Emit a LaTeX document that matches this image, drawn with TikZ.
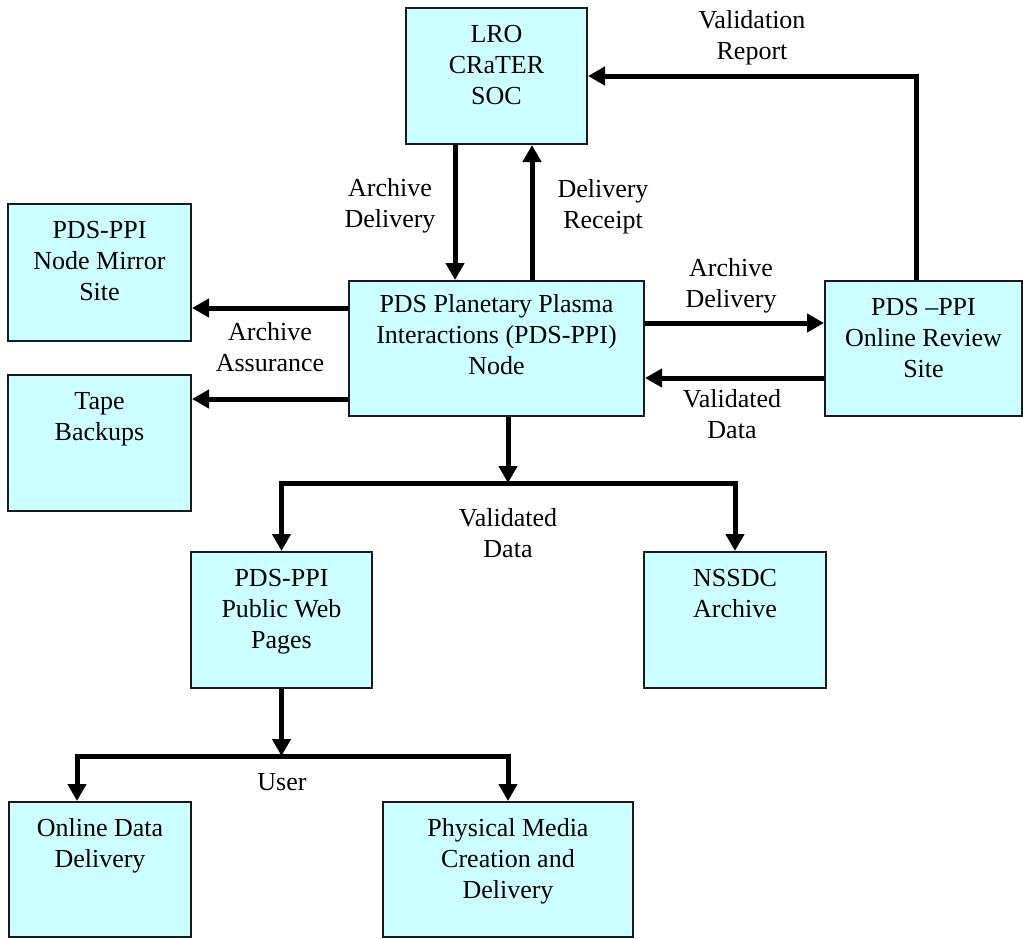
\documentclass[tikz,border=0pt]{standalone}
\usepackage{fontspec}
\setmainfont{Liberation Serif}
\usetikzlibrary{arrows.meta}
\definecolor{boxfill}{HTML}{CCFFFF}
\definecolor{boxline}{HTML}{1A1A1A}
\begin{document}
\begin{tikzpicture}[x=1pt,y=-1pt,
  every node/.style={font=\fontsize{26}{31}\selectfont},
  box/.style={draw=boxline,line width=2pt,fill=boxfill,rectangle,inner sep=0pt,
    minimum width=#1},
  box/.default=182pt,
  boxtxt/.style={label={[anchor=north,yshift=-15pt,align=center,inner sep=0pt]north:\rule{0pt}{20pt}#1}},
  boxtxtB/.style={label={[anchor=north,yshift=-12pt,align=center,inner sep=0pt]north:\rule{0pt}{20pt}#1}},
  arr/.style={line width=5pt,-{Triangle[length=17pt,width=18pt]}},
  lbl/.style={align=center,inner sep=0pt}]
\useasboundingbox (0,0) rectangle (1023,938);
% boxes
\node[box=181pt,minimum height=136pt,boxtxt={LRO\\CRaTER\\SOC}] (lro) at (496.5,76) {};
\node[box=295pt,minimum height=135pt,boxtxtB={PDS Planetary Plasma\\Interactions (PDS-PPI)\\Node}] (main) at (496.5,348.5) {};
\node[box=197pt,minimum height=135pt,boxtxt={PDS --PPI\\Online Review\\Site}] (rev) at (923.5,348.5) {};
\node[box=183pt,minimum height=137pt,boxtxt={PDS-PPI\\Node Mirror\\Site}] (mirror) at (99.5,272.5) {};
\node[box=183pt,minimum height=136pt,boxtxt={Tape\\Backups}] (tape) at (99.5,443) {};
\node[box=181pt,minimum height=136pt,boxtxt={PDS-PPI\\Public Web\\Pages}] (pub) at (281.5,620) {};
\node[box=182pt,minimum height=136pt,boxtxt={NSSDC\\Archive}] (nssdc) at (735,620) {};
\node[box=182pt,minimum height=135pt,boxtxt={Online Data\\Delivery}] (odd) at (100,869.5) {};
\node[box=250pt,minimum height=135pt,boxtxt={Physical Media\\Creation and\\Delivery}] (phys) at (508,869.5) {};
% helper coordinates
\coordinate (xA) at (455,0);
\coordinate (xB) at (532,0);
\coordinate (xV) at (916,0);
\coordinate (xM) at (508,0);
\coordinate (xL) at (77,0);
\coordinate (yA) at (0,308);
\coordinate (yB) at (0,399);
\coordinate (yC) at (0,323);
\coordinate (yD) at (0,378);
\coordinate (yT) at (0,483);
\coordinate (yU) at (0,756);
% connectors
\draw[arr] (lro.south -| xA) -- (main.north -| xA);
\draw[arr] (main.north -| xB) -- (lro.south -| xB);
\draw[arr] (rev.north -| xV) |- (lro.east);
\draw[arr] (main.west |- yA) -- (mirror.east |- yA);
\draw[arr] (main.west |- yB) -- (tape.east |- yB);
\draw[arr] (main.east |- yC) -- (rev.west |- yC);
\draw[arr] (rev.west |- yD) -- (main.east |- yD);
\draw[arr] (main.south -| xM) -- (xM |- yT);
\draw[arr] (xM |- yT) -| (pub.north);
\draw[arr] (xM |- yT) -| (nssdc.north);
\draw[arr] (pub.south) -- (pub.south |- yU);
\draw[arr] (pub.south |- yU) -| (odd.north -| xL);
\draw[arr] (pub.south |- yU) -| (phys.north);
% labels
\node[lbl] (l1) at (390,206) {Archive\\Delivery};
\node[lbl] (l2) at (603,207) {Delivery\\Receipt};
\node[lbl] (l3) at (752,38) {Validation\\Report};
\node[lbl] (l4) at (731,286) {Archive\\Delivery};
\node[lbl] (l5) at (732,414) {Validated\\Data};
\node[lbl] (l6) at (270,347) {Archive\\Assurance};
\node[lbl] (l7) at (508,533) {Validated\\Data};
\node[lbl] (l8) at (282,782) {User};
\end{tikzpicture}
\end{document}
